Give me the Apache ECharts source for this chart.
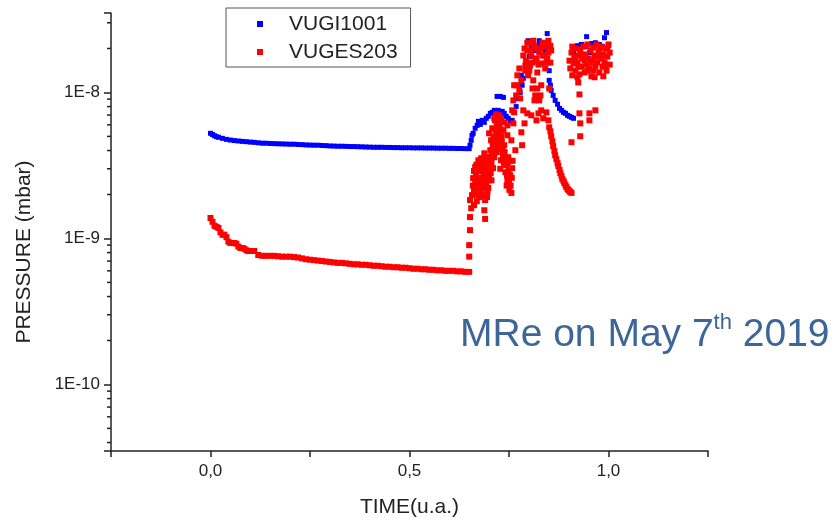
<!DOCTYPE html>
<html>
<head>
<meta charset="utf-8">
<script src="https://cdn.jsdelivr.net/npm/echarts@6/dist/echarts.min.js"></script>
<style>
html,body{margin:0;padding:0;background:#fff;}
#chart{width:835px;height:518px;}
</style>
</head>
<body>
<div id="chart"></div>
<script>
// ---- data (time in u.a., pressure in mbar) ----
const seriesNames = ['VUGI1001', 'VUGES203'];
const xTickLabels = ['0,0', '0,5', '1,0'];
const yTickLabels = ['1E-10', '1E-9', '1E-8'];

const vugi1001 = [
  [0.000,5.25e-9],[0.005,5.15e-9],[0.010,5.05e-9],[0.015,4.98e-9],[0.020,4.93e-9],[0.030,4.85e-9],[0.040,4.77e-9],[0.050,4.72e-9],
  [0.060,4.68e-9],[0.070,4.65e-9],[0.080,4.62e-9],[0.090,4.60e-9],[0.100,4.57e-9],[0.110,4.55e-9],[0.120,4.52e-9],[0.130,4.49e-9],
  [0.140,4.49e-9],[0.150,4.47e-9],[0.160,4.46e-9],[0.170,4.45e-9],[0.180,4.44e-9],[0.190,4.43e-9],[0.200,4.42e-9],[0.210,4.42e-9],
  [0.220,4.40e-9],[0.230,4.39e-9],[0.240,4.37e-9],[0.250,4.36e-9],[0.260,4.35e-9],[0.270,4.35e-9],[0.280,4.33e-9],[0.290,4.32e-9],
  [0.300,4.30e-9],[0.310,4.29e-9],[0.320,4.28e-9],[0.330,4.28e-9],[0.340,4.27e-9],[0.350,4.26e-9],[0.360,4.26e-9],[0.370,4.25e-9],
  [0.380,4.24e-9],[0.390,4.23e-9],[0.400,4.22e-9],[0.410,4.21e-9],[0.420,4.21e-9],[0.430,4.21e-9],[0.440,4.20e-9],[0.450,4.20e-9],
  [0.460,4.19e-9],[0.470,4.19e-9],[0.480,4.18e-9],[0.490,4.18e-9],[0.500,4.18e-9],[0.510,4.17e-9],[0.520,4.17e-9],[0.530,4.17e-9],
  [0.540,4.16e-9],[0.550,4.16e-9],[0.560,4.16e-9],[0.570,4.15e-9],[0.580,4.15e-9],[0.590,4.15e-9],[0.600,4.14e-9],[0.610,4.14e-9],
  [0.620,4.13e-9],[0.630,4.13e-9],[0.640,4.12e-9],[0.650,4.12e-9],
  [0.652,4.35e-9],[0.655,4.70e-9],[0.657,5.09e-9],[0.660,5.25e-9],[0.665,5.68e-9],[0.670,5.95e-9],[0.673,6.34e-9],[0.678,6.04e-9],
  [0.683,6.44e-9],[0.688,6.24e-9],[0.693,6.65e-9],[0.698,6.86e-9],[0.703,7.19e-9],[0.708,7.30e-9],[0.713,7.54e-9],[0.718,7.42e-9],
  [0.723,7.54e-9],[0.728,7.30e-9],[0.733,7.42e-9],[0.738,7.19e-9],[0.743,6.86e-9],[0.748,6.65e-9],[0.753,6.34e-9],[0.758,6.44e-9],
  [0.720,9.39e-9],[0.728,9.39e-9],[0.736,9.25e-9],[0.763,7.30e-9],[0.768,8.0e-9],[0.773,9.1e-9],[0.778,1.0e-8],[0.783,1.12e-8],
  [0.786,1.25e-8],[0.791,1.41e-8],[0.796,1.58e-8],[0.801,1.76e-8],[0.806,1.875e-8],[0.811,2.03e-8],[0.816,1.94e-8],[0.821,2.09e-8],
  [0.826,2.0e-8],[0.831,2.13e-8],[0.836,2.03e-8],[0.841,1.94e-8],[0.846,2.53e-8],[0.798,2.26e-8],[0.793,1.65e-8],[0.806,2.09e-8],
  [0.826,2.26e-8],[0.781,1.31e-8],[0.839,2.19e-8],
  [0.851,1.41e-8],[0.851,1.21e-8],[0.854,1.12e-8],[0.856,1.03e-8],[0.861,9.54e-9],[0.866,8.82e-9],[0.872,8.3e-9],[0.877,7.77e-9],
  [0.882,7.54e-9],[0.887,7.3e-9],[0.892,7.19e-9],[0.897,6.97e-9],[0.902,6.86e-9],[0.907,6.75e-9],[0.912,6.65e-9],
  [0.945,2.41e-8],[0.995,2.57e-8],[0.990,2.37e-8],[0.912,1.94e-8],[0.922,2.09e-8],[0.932,2.13e-8],[0.942,2.06e-8],[0.957,2.16e-8],
  [0.967,2.19e-8],[0.977,2.13e-8],[0.985,2.06e-8],[1.000,2.09e-8],[0.904,1.65e-8],[0.917,1.79e-8],[0.952,1.875e-8]
];

const vuges203 = [
  [0.000,1.38e-9],[0.005,1.30e-9],[0.010,1.22e-9],[0.015,1.20e-9],[0.020,1.18e-9],[0.025,1.10e-9],[0.030,1.06e-9],[0.035,1.06e-9],
  [0.040,1.02e-9],[0.045,0.95e-9],[0.050,0.93e-9],[0.055,0.93e-9],[0.060,0.93e-9],[0.065,0.92e-9],[0.070,0.88e-9],[0.075,0.86e-9],
  [0.080,0.86e-9],[0.085,0.85e-9],[0.090,0.83e-9],[0.095,0.82e-9],[0.100,0.82e-9],[0.110,0.82e-9],[0.120,0.77e-9],[0.130,0.76e-9],
  [0.140,0.76e-9],[0.150,0.76e-9],[0.160,0.76e-9],[0.170,0.755e-9],[0.180,0.75e-9],[0.190,0.75e-9],[0.200,0.75e-9],[0.210,0.745e-9],
  [0.220,0.74e-9],[0.230,0.73e-9],[0.240,0.72e-9],[0.250,0.715e-9],[0.260,0.71e-9],[0.270,0.705e-9],[0.280,0.70e-9],[0.290,0.695e-9],
  [0.300,0.69e-9],[0.310,0.685e-9],[0.320,0.68e-9],[0.330,0.68e-9],[0.340,0.675e-9],[0.350,0.67e-9],[0.360,0.665e-9],[0.370,0.665e-9],
  [0.380,0.66e-9],[0.390,0.66e-9],[0.400,0.655e-9],[0.410,0.65e-9],[0.420,0.65e-9],[0.430,0.645e-9],[0.440,0.64e-9],[0.450,0.64e-9],
  [0.460,0.635e-9],[0.470,0.635e-9],[0.480,0.63e-9],[0.490,0.63e-9],[0.500,0.625e-9],[0.510,0.62e-9],[0.520,0.62e-9],[0.530,0.615e-9],
  [0.540,0.615e-9],[0.550,0.61e-9],[0.560,0.61e-9],[0.570,0.605e-9],[0.580,0.605e-9],[0.590,0.60e-9],[0.600,0.60e-9],[0.610,0.60e-9],
  [0.620,0.595e-9],[0.630,0.595e-9],[0.640,0.59e-9],[0.650,0.59e-9],
  [0.650,7.5e-10],[0.650,9.0e-10],[0.652,1.14e-9],[0.652,1.40e-9],[0.655,1.61e-9],[0.652,1.83e-9],[0.657,1.98e-9],[0.662,1.69e-9],
  [0.662,2.15e-9],[0.665,2.36e-9],[0.660,2.59e-9],[0.667,2.76e-9],[0.665,3.08e-9],[0.670,2.47e-9],[0.673,3.43e-9],[0.675,2.89e-9],
  [0.678,2.28e-9],[0.675,1.92e-9],[0.680,2.11e-9],[0.683,2.59e-9],[0.685,3.08e-9],[0.680,3.54e-9],[0.688,3.83e-9],[0.690,2.94e-9],
  [0.693,2.39e-9],[0.690,1.83e-9],[0.695,1.92e-9],[0.688,1.56e-9],[0.690,1.36e-9],[0.698,2.22e-9],[0.700,2.71e-9],[0.698,3.33e-9],
  [0.703,4.02e-9],[0.705,4.70e-9],[0.700,5.25e-9],[0.708,5.68e-9],[0.710,4.35e-9],[0.713,3.60e-9],[0.710,3.03e-9],[0.715,6.44e-9],
  [0.718,7.08e-9],[0.720,5.09e-9],[0.723,4.15e-9],[0.725,5.95e-9],[0.728,4.70e-9],[0.730,3.43e-9],[0.733,3.89e-9],[0.730,6.65e-9],
  [0.736,5.5e-9],[0.738,4.35e-9],[0.741,2.84e-9],[0.743,3.17e-9],[0.746,2.51e-9],[0.748,3.6e-9],[0.751,2.15e-9],[0.753,2.71e-9],
  [0.756,2.05e-9],[0.758,3.03e-9],[0.756,4.70e-9],[0.761,6.14e-9],[0.763,7.30e-9],[0.766,4.02e-9],[0.761,8.82e-9],[0.768,9.54e-9],
  [0.713,6.65e-9],[0.725,6.97e-9],[0.738,6.24e-9],[0.746,5.95e-9],[0.746,5.09e-9],
  [0.668,3.2e-9],[0.672,2.6e-9],[0.676,3.1e-9],[0.682,2.4e-9],[0.686,2.8e-9],[0.692,2.6e-9],[0.696,3.1e-9],[0.702,3.6e-9],
  [0.706,3.3e-9],[0.712,4.1e-9],[0.716,5.5e-9],[0.722,4.8e-9],[0.727,5.3e-9],[0.732,4.6e-9],[0.735,3.7e-9],[0.740,3.2e-9],
  [0.744,2.3e-9],[0.749,2.9e-9],[0.752,3.4e-9],[0.706,2.5e-9],[0.696,2.1e-9],[0.684,1.98e-9],[0.718,3.9e-9],[0.728,3.0e-9],
  [0.667,2.2e-9],[0.671,2.0e-9],[0.674,2.3e-9],[0.677,2.6e-9],[0.679,3.3e-9],[0.681,2.9e-9],[0.684,3.5e-9],[0.687,2.3e-9],
  [0.689,3.2e-9],[0.691,2.2e-9],[0.694,2.9e-9],[0.697,3.6e-9],[0.699,2.5e-9],[0.701,3.0e-9],[0.704,2.8e-9],[0.707,3.9e-9],
  [0.709,4.4e-9],[0.711,5.0e-9],[0.714,4.8e-9],[0.717,4.5e-9],[0.719,6.0e-9],[0.721,5.7e-9],[0.724,6.3e-9],[0.726,4.4e-9],
  [0.729,5.6e-9],[0.731,5.0e-9],[0.734,4.1e-9],[0.737,3.3e-9],[0.739,3.9e-9],[0.742,3.5e-9],[0.745,2.7e-9],[0.747,3.3e-9],
  [0.750,2.4e-9],[0.754,2.3e-9],[0.757,2.6e-9],[0.759,3.4e-9],[0.662,2.9e-9],[0.664,2.0e-9],[0.669,1.8e-9],[0.659,2.3e-9],
  [0.771,1.12e-8],[0.776,1.03e-8],[0.781,1.21e-8],[0.781,5.33e-9],[0.783,4.35e-9],[0.786,7.54e-9],[0.791,1.41e-8],[0.793,1.65e-8],
  [0.796,1.94e-8],[0.798,1.31e-8],[0.801,2.16e-8],[0.803,1.53e-8],[0.806,1.79e-8],[0.809,1.065e-8],[0.811,2.26e-8],[0.814,8.82e-9],
  [0.816,1.65e-8],[0.819,2.0e-8],[0.821,1.37e-8],[0.824,7.19e-9],[0.826,1.875e-8],[0.829,9.54e-9],[0.831,1.58e-8],[0.834,2.19e-8],
  [0.836,6.65e-9],[0.839,1.79e-8],[0.841,1.46e-8],[0.844,2.09e-8],[0.846,1.71e-8],[0.849,2.26e-8],[0.851,1.065e-8],[0.854,1.6e-8],
  [0.856,1.94e-8],[0.849,6.44e-9],[0.806,6.97e-9],[0.796,7.19e-9],[0.819,6.44e-9],[0.831,7.54e-9],[0.844,7.3e-9],[0.789,6.14e-9],
  [0.786,1.79e-8],[0.789,2.0e-8],[0.796,2.19e-8],[0.803,1.94e-8],[0.809,1.6e-8],[0.814,2.09e-8],[0.819,1.71e-8],[0.824,1.55e-8],
  [0.829,2.0e-8],[0.834,1.79e-8],[0.839,2.06e-8],[0.844,1.6e-8],[0.849,1.875e-8],[0.854,2.09e-8],[0.791,1.53e-8],[0.801,1.41e-8],
  [0.811,1.21e-8],[0.821,1.065e-8],[0.831,1.12e-8],[0.776,1.46e-8],[0.771,1.31e-8],[0.778,9.1e-9],[0.816,9.54e-9],[0.826,8.82e-9],
  [0.763,1.12e-8],[0.758,7.54e-9],
  [0.851,5.77e-9],[0.854,5.42e-9],[0.856,5.01e-9],[0.859,4.63e-9],[0.861,4.28e-9],[0.864,3.96e-9],[0.866,3.71e-9],[0.869,3.49e-9],
  [0.872,3.28e-9],[0.874,3.13e-9],[0.877,2.94e-9],[0.879,2.80e-9],[0.882,2.67e-9],[0.884,2.55e-9],[0.887,2.47e-9],[0.889,2.39e-9],
  [0.892,2.32e-9],[0.894,2.25e-9],[0.897,2.18e-9],[0.899,2.15e-9],[0.902,2.11e-9],[0.904,2.08e-9],[0.907,2.05e-9],
  [0.907,4.56e-9],[0.929,5.01e-9],[0.929,6.14e-9],[0.927,7.19e-9],[0.952,7.19e-9],[0.952,6.44e-9],[0.967,7.54e-9],[0.927,9.69e-9],
  [0.924,1.17e-8],
  [0.902,1.65e-8],[0.904,1.46e-8],[0.907,1.875e-8],[0.909,1.31e-8],[0.912,1.58e-8],[0.914,1.76e-8],[0.917,1.41e-8],[0.919,2.0e-8],
  [0.922,1.6e-8],[0.924,1.79e-8],[0.927,1.33e-8],[0.929,1.94e-8],[0.932,1.5e-8],[0.934,1.71e-8],[0.937,2.06e-8],[0.940,1.37e-8],
  [0.942,1.82e-8],[0.945,1.55e-8],[0.947,2.13e-8],[0.950,1.71e-8],[0.952,1.46e-8],[0.955,1.94e-8],[0.957,1.29e-8],[0.960,1.65e-8],
  [0.962,2.03e-8],[0.965,1.79e-8],[0.967,1.5e-8],[0.970,2.13e-8],[0.972,1.6e-8],[0.975,1.875e-8],[0.977,1.37e-8],[0.980,1.71e-8],
  [0.982,2.06e-8],[0.985,1.5e-8],[0.987,1.82e-8],[0.990,1.6e-8],[0.992,2.0e-8],[0.995,1.41e-8],[0.997,1.76e-8],[1.000,2.13e-8],
  [1.003,1.55e-8],[1.003,1.875e-8],[0.909,2.06e-8],[0.917,1.65e-8],[0.924,1.5e-8],[0.932,1.82e-8],[0.940,1.65e-8],[0.947,1.41e-8],
  [0.955,1.6e-8],[0.962,1.41e-8],[0.970,1.76e-8],[0.977,2.0e-8],[0.985,1.76e-8],[0.992,1.5e-8],[0.997,2.0e-8],[0.922,1.27e-8],
  [0.987,1.29e-8],[0.965,1.27e-8]
];

// minor tick positions of the logarithmic pressure axis
const yMinorTicks = [
  4e-11,5e-11,6e-11,7e-11,8e-11,9e-11,
  2e-10,3e-10,4e-10,5e-10,6e-10,7e-10,8e-10,9e-10,
  2e-9,3e-9,4e-9,5e-9,6e-9,7e-9,8e-9,9e-9,
  2e-8,3e-8
];

const X_MIN = -0.25, X_MAX = 1.25, X_STEP = 0.25;
const Y_MIN = 3.5e-11, Y_MAX = 3.5e-8;

const FONT = '"Liberation Sans", Arial, Helvetica, sans-serif';
const INK = '#222';
const NOTE = '#3c6598';

const chart = echarts.init(document.getElementById('chart'), null, {renderer: 'canvas'});

function xLabel(v) {
  const r = Math.round(v * 2);
  if (Math.abs(v * 2 - r) > 1e-9) return '';
  return (r >= 0 && r < xTickLabels.length) ? xTickLabels[r] : '';
}
function yLabel(v) {
  const l = Math.log10(v);
  const e = Math.round(l);
  if (Math.abs(l - e) > 1e-6) return '';
  const idx = e + 10;
  return (idx >= 0 && idx < yTickLabels.length) ? yTickLabels[idx] : '';
}

chart.setOption({
  animation: false,
  backgroundColor: '#fff',
  textStyle: {fontFamily: FONT},
  grid: {left: 111, top: 13, right: 127, bottom: 67, containLabel: false, outerBoundsMode: 'none'},
  title: {
    left: 455, top: 307,
    text: '{a|MRe on May 7}{s|th}{a| 2019}',
    textStyle: {
      fontWeight: 'normal',
      rich: {
        a: {fontSize: 39, fontWeight: 'normal', color: NOTE, fontFamily: FONT, lineHeight: 46},
        s: {fontSize: 22, fontWeight: 'normal', color: NOTE, fontFamily: FONT, verticalAlign: 'top', lineHeight: 26}
      }
    }
  },
  legend: {
    data: seriesNames,
    orient: 'vertical',
    left: 226, top: 8,
    padding: [5, 13, 4, 31],
    itemGap: 6,
    itemWidth: 6, itemHeight: 6,
    icon: 'rect',
    borderColor: '#555', borderWidth: 1,
    textStyle: {fontSize: 21, color: INK, fontFamily: FONT, lineHeight: 22, padding: [0, 0, 0, 21]}
  },
  xAxis: {
    type: 'value',
    min: X_MIN, max: X_MAX, interval: X_STEP,
    name: 'TIME(u.a.)',
    nameLocation: 'middle',
    nameGap: 46,
    nameTextStyle: {fontSize: 21, color: INK, fontFamily: FONT},
    axisLine: {onZero: false, lineStyle: {color: INK, width: 1.5}},
    axisTick: {show: true, length: 6, lineStyle: {color: INK, width: 1.5}},
    axisLabel: {fontSize: 17, color: INK, margin: 12, formatter: xLabel, showMinLabel: true, showMaxLabel: true},
    splitLine: {show: false}
  },
  yAxis: {
    type: 'log',
    logBase: 10,
    min: Y_MIN, max: Y_MAX,
    axisLine: {show: true, onZero: false, lineStyle: {color: INK, width: 1.5}},
    axisTick: {show: true, length: 7, lineStyle: {color: INK, width: 1.5}},
    axisLabel: {fontSize: 17, color: INK, margin: 11, formatter: yLabel},
    splitLine: {show: false}
  },
  graphic: [{
    type: 'text',
    x: 24, y: 252,
    rotation: Math.PI / 2,
    style: {text: 'PRESSURE (mbar)', fontSize: 21, fill: INK, fontFamily: FONT, align: 'center', verticalAlign: 'middle'}
  }],
  series: [
    {
      name: seriesNames[0], type: 'scatter', data: vugi1001,
      symbol: 'rect', symbolSize: 5,
      itemStyle: {color: '#0000ff', opacity: 1}, z: 2
    },
    {
      name: seriesNames[1], type: 'scatter', data: vuges203,
      symbol: 'rect', symbolSize: 6,
      itemStyle: {color: '#ff0000', opacity: 1}, z: 3
    },
    {
      name: 'minorTicks', type: 'custom', silent: true, clip: false, z: 5,
      data: yMinorTicks.map(v => [X_MIN, v]),
      renderItem: function (params, api) {
        const p = api.coord([api.value(0), api.value(1)]);
        return {type: 'line', shape: {x1: p[0] - 4, y1: p[1], x2: p[0], y2: p[1]},
                style: {stroke: INK, lineWidth: 1.5}};
      }
    }
  ]
});
</script>
</body>
</html>
